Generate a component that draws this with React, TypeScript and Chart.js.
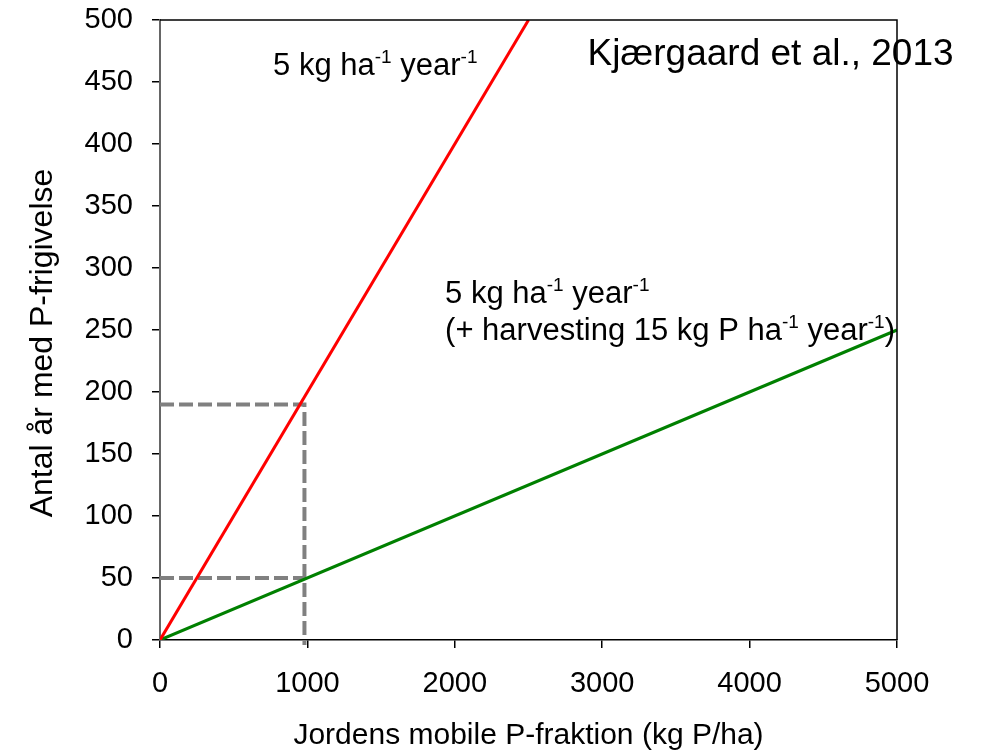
import { useEffect, useRef } from "react";
import { Chart, registerables } from "chart.js";

Chart.register(...registerables);

const FONT = "'Liberation Sans', Arial, Helvetica, sans-serif";

// Axis ranges and ticks
const xMin = 0;
const xMax = 5000;
const xStep = 1000;
const yMin = 0;
const yMax = 500;
const yStep = 50;

// Release time at 5 kg P per ha per year
const redX = [0, 2500];
const redY = [0, 500];

// Release time at 5 kg + 15 kg harvesting per ha per year
const greenX = [0, 5000];
const greenY = [0, 250];

// Dashed reading guides at ~1000 kg P/ha
const guideHighX = [0, 980, 980];
const guideHighY = [190, 190, -4];
const guideLowX = [0, 980];
const guideLowY = [50, 50];

const xTitle = "Jordens mobile P-fraktion (kg P/ha)";
const yTitle = "Antal år med P-frigivelse";
const sourceLabel = "Kjærgaard et al., 2013";

type Seg = { t: string; sup?: boolean };

const redLabel: Seg[] = [{ t: "5 kg ha" }, { t: "-1", sup: true }, { t: " year" }, { t: "-1", sup: true }];
const greenLabel1: Seg[] = [{ t: "5 kg ha" }, { t: "-1", sup: true }, { t: " year" }, { t: "-1", sup: true }];
const greenLabel2: Seg[] = [
  { t: "(+ harvesting 15 kg P ha" },
  { t: "-1", sup: true },
  { t: " year" },
  { t: "-1", sup: true },
  { t: ")" },
];

// label anchors in data units (x start, baseline y)
const redLabelAt = [767, 455.6];
const greenLabel1At = [1934, 271.8];
const greenLabel2At = [1934, 242];
const sourceAt = [2900, 464];

const zip = (xs: number[], ys: number[]) => xs.map((x, i) => ({ x, y: ys[i] }));

function drawSegs(ctx: CanvasRenderingContext2D, segs: Seg[], x: number, y: number, size: number) {
  let cx = x;
  for (const s of segs) {
    if (s.sup) {
      ctx.font = `${Math.round(size * 0.6)}px ${FONT}`;
      ctx.fillText(s.t, cx, y - size * 0.39);
    } else {
      ctx.font = `${size}px ${FONT}`;
      ctx.fillText(s.t, cx, y);
    }
    cx += ctx.measureText(s.t).width;
  }
}

const decorPlugin = {
  id: "decor",
  afterDatasetsDraw(chart: any) {
    const { ctx, chartArea: a, scales } = chart;
    const xs = scales.x;
    const ys = scales.y;
    ctx.save();
    // frame (top and right)
    ctx.strokeStyle = "#000";
    ctx.lineWidth = 1.5;
    ctx.beginPath();
    ctx.moveTo(a.left, a.top);
    ctx.lineTo(a.right, a.top);
    ctx.lineTo(a.right, a.bottom);
    ctx.stroke();

    ctx.fillStyle = "#000";
    ctx.textBaseline = "alphabetic";
    ctx.textAlign = "left";
    drawSegs(ctx, redLabel, xs.getPixelForValue(redLabelAt[0]), ys.getPixelForValue(redLabelAt[1]), 31);
    drawSegs(ctx, greenLabel1, xs.getPixelForValue(greenLabel1At[0]), ys.getPixelForValue(greenLabel1At[1]), 31);
    drawSegs(ctx, greenLabel2, xs.getPixelForValue(greenLabel2At[0]), ys.getPixelForValue(greenLabel2At[1]), 31);
    ctx.font = `37px ${FONT}`;
    ctx.fillText(sourceLabel, xs.getPixelForValue(sourceAt[0]), ys.getPixelForValue(sourceAt[1]));

    // axis titles
    ctx.textAlign = "center";
    ctx.font = `30px ${FONT}`;
    ctx.fillText(xTitle, (a.left + a.right) / 2, a.bottom + 104);
    ctx.save();
    ctx.translate(52, (a.top + a.bottom) / 2 + 13);
    ctx.rotate(-Math.PI / 2);
    ctx.font = `32px ${FONT}`;
    ctx.fillText(yTitle, 0, 0);
    ctx.restore();
    ctx.restore();
  },
};

export default function App() {
  const ref = useRef<HTMLCanvasElement | null>(null);

  useEffect(() => {
    if (!ref.current) return;
    const lineBase = { showLine: true, pointRadius: 0, fill: false, tension: 0 };
    const plain = (v: any) => String(v);
    const chart = new Chart(ref.current, {
      type: "scatter",
      data: {
        datasets: [
          { ...lineBase, data: zip(redX, redY), borderColor: "#ff0000", borderWidth: 3, order: 1 },
          { ...lineBase, data: zip(greenX, greenY), borderColor: "#008000", borderWidth: 3, order: 1 },
          {
            ...lineBase,
            data: zip(guideHighX, guideHighY),
            borderColor: "#808080",
            borderWidth: 4,
            borderDash: [14, 5],
            clip: false,
            order: 2,
          },
          {
            ...lineBase,
            data: zip(guideLowX, guideLowY),
            borderColor: "#808080",
            borderWidth: 4,
            borderDash: [14, 5],
            order: 2,
          },
        ],
      },
      options: {
        responsive: false,
        animation: false,
        devicePixelRatio: 1,
        layout: { padding: { left: 0, top: 20, right: 84, bottom: 0 } },
        plugins: { legend: { display: false }, tooltip: { enabled: false } },
        scales: {
          x: {
            type: "linear",
            min: xMin,
            max: xMax,
            afterFit: (s: any) => {
              s.height = 111;
              s.paddingLeft = 0;
              s.paddingRight = 0;
            },
            ticks: {
              stepSize: xStep,
              color: "#000",
              padding: 19,
              maxRotation: 0,
              callback: plain,
              font: { family: FONT, size: 29 },
            },
            grid: { drawOnChartArea: false, drawTicks: true, tickLength: 8, color: "#000", lineWidth: 1.5 },
            border: { display: true, color: "#000", width: 1.5 },
          },
          y: {
            type: "linear",
            min: yMin,
            max: yMax,
            afterFit: (s: any) => {
              s.width = 160;
              s.paddingTop = 0;
              s.paddingBottom = 0;
            },
            ticks: {
              stepSize: yStep,
              color: "#000",
              padding: 19,
              callback: plain,
              font: { family: FONT, size: 29 },
            },
            grid: { drawOnChartArea: false, drawTicks: true, tickLength: 8, color: "#000", lineWidth: 1.5 },
            border: { display: true, color: "#666", width: 2 },
          },
        },
      },
      plugins: [decorPlugin],
    } as any);
    return () => chart.destroy();
  }, []);

  return (
    <div style={{ position: "fixed", left: 0, top: 0, width: 981, height: 751, background: "#fff" }}>
      <canvas ref={ref} width={981} height={751} />
    </div>
  );
}
